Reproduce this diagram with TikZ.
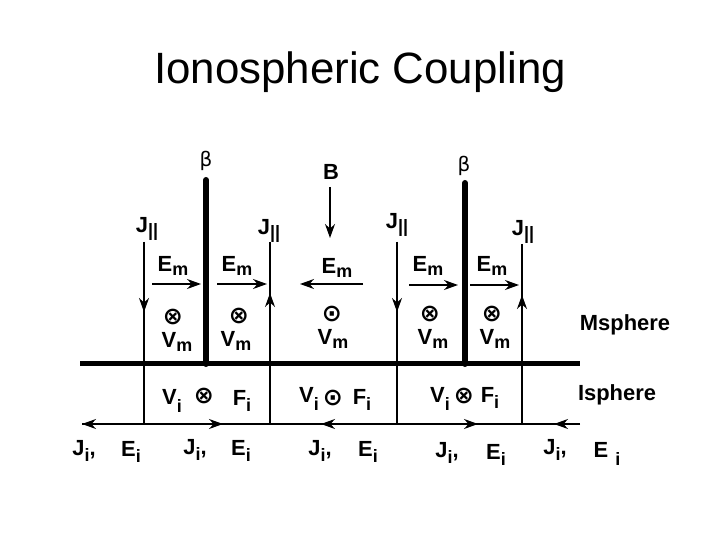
\documentclass[tikz,border=0pt]{standalone}
\usepackage{fontspec}
\setmainfont{Liberation Sans}
\newfontfamily\symfont{DejaVu Sans}
\usetikzlibrary{arrows.meta}
\newcommand{\lsub}[2][0.22em]{\raisebox{-#1}{\fontsize{18}{18}\selectfont\bfseries #2}}
\begin{document}
\begin{tikzpicture}[x=1bp,y=-1bp,
  lab/.style={font=\fontsize{22}{26}\selectfont\bfseries, inner sep=0pt},
  big/.style={font=\fontsize{22}{26}\selectfont\bfseries, inner sep=0pt},
  sym/.style={font=\fontsize{24}{26}\selectfont\symfont\bfseries, inner sep=0pt},
  greek/.style={font=\fontsize{20}{22}\selectfont\symfont, inner sep=0pt},
  thinline/.style={line width=1.4bp},
  thickline/.style={line width=6bp, line cap=round},
  boundary/.style={line width=5bp},
  arr/.style={line width=1.4bp, -{Stealth[length=14bp,width=10bp]}}]
\useasboundingbox (0,0) rectangle (720,540);
% title
\node[font=\fontsize{44}{50}\selectfont, inner sep=0pt, anchor=base] (title) at (360,84) {Ionospheric Coupling};

% coordinates
\coordinate (bl) at (80,363); \coordinate (br) at (580,363);
\coordinate (il) at (82,424); \coordinate (ir) at (580,424);
\coordinate (b1t) at (206,180); \coordinate (b1b) at (206,364);
\coordinate (b2t) at (465,183); \coordinate (b2b) at (465,364);
\coordinate (j1t) at (144,242); \coordinate (j1b) at (144,424);
\coordinate (j2t) at (270,242); \coordinate (j2b) at (270,424);
\coordinate (j3t) at (397,242); \coordinate (j3b) at (397,424);
\coordinate (j4t) at (522,244); \coordinate (j4b) at (522,424);

% main lines
\draw[boundary] (bl) -- (br);
\draw[thinline] (il) -- (ir);
\draw[thickline] (b1t) -- (b1b);
\draw[thickline] (b2t) -- (b2b);
\draw[thinline] (j1t) -- (j1b);
\draw[thinline] (j2t) -- (j2b);
\draw[thinline] (j3t) -- (j3b);
\draw[thinline] (j4t) -- (j4b);

% J parallel arrowheads
\coordinate (a1) at (144,312); \draw[arr] (j1t) -- (a1);
\coordinate (a2) at (270,293); \draw[arr] (j2b) -- (a2);
\coordinate (a3) at (397,312); \draw[arr] (j3t) -- (a3);
\coordinate (a4) at (522,295); \draw[arr] (j4b) -- (a4);

% B
\node[lab] (B) at (331,172) {B};
\coordinate (Bstart) at (330,187);
\coordinate (Bend) at (330,238);
\draw[arr] (Bstart) -- (Bend);

% beta
\node[greek] (beta1) at (206,161) {β};
\node[greek] (beta2) at (464,166) {β};

% J parallel labels
\node[lab] (J1) at (147,229) {J\lsub[0.15em]{||}};
\node[lab] (J2) at (269,231) {J\lsub[0.15em]{||}};
\node[lab] (J3) at (397,225) {J\lsub[0.15em]{||}};
\node[lab] (J4) at (523,232) {J\lsub[0.15em]{||}};

% Em labels and arrows
\node[lab] (E1) at (173,266) {E\lsub{m}};
\node[lab] (E2) at (237,266) {E\lsub{m}};
\node[lab] (E3) at (337,268) {E\lsub{m}};
\node[lab] (E4) at (428,266) {E\lsub{m}};
\node[lab] (E5) at (492,266) {E\lsub{m}};
\coordinate (e1a) at (152,284); \coordinate (e1b) at (201,284);
\coordinate (e2a) at (217,284); \coordinate (e2b) at (267,284);
\coordinate (e3a) at (363,284); \coordinate (e3b) at (300,284);
\coordinate (e4a) at (409,285); \coordinate (e4b) at (458,285);
\coordinate (e5a) at (470,285); \coordinate (e5b) at (519,285);
\draw[arr] (e1a) -- (e1b);
\draw[arr] (e2a) -- (e2b);
\draw[arr] (e3a) -- (e3b);
\draw[arr] (e4a) -- (e4b);
\draw[arr] (e5a) -- (e5b);

% Vm symbols
\node[sym] (o1) at (173,317) {⊗};
\node[sym] (o2) at (239,316) {⊗};
\node[sym] (o3) at (332,314) {⊙};
\node[sym] (o4) at (430,314) {⊗};
\node[sym] (o5) at (492,314) {⊗};
\node[lab] (V1) at (177,342) {V\lsub{m}};
\node[lab] (V2) at (236,341) {V\lsub{m}};
\node[lab] (V3) at (333,339) {V\lsub{m}};
\node[lab] (V4) at (433,339) {V\lsub{m}};
\node[lab] (V5) at (495,339) {V\lsub{m}};

\node[big] (Ms) at (625,325) {Msphere};
\node[big] (Is) at (617,395) {Isphere};

% ionosphere row
\node[lab] (vi1) at (172,401) {V\lsub[0.35em]{i}};
\node[sym] (oi1) at (204,396) {⊗};
\node[lab] (fi1) at (242,401) {F\lsub[0.3em]{i}};
\node[lab] (vi2) at (309,399) {V\lsub[0.35em]{i}};
\node[sym] (oi2) at (333,398) {⊙};
\node[lab] (fi2) at (362,400) {F\lsub[0.3em]{i}};
\node[lab] (vi3) at (440,399) {V\lsub[0.35em]{i}};
\node[sym] (oi3) at (464,396) {⊗};
\node[lab] (fi3) at (490,398) {F\lsub[0.3em]{i}};

% ionospheric current arrows
\coordinate (h1) at (145,424); \draw[arr] (h1) -- (il);
\coordinate (h2a) at (145,424); \coordinate (h2b) at (223,424); \draw[arr] (h2a) -- (h2b);
\coordinate (h3a) at (397,424); \coordinate (h3b) at (321,424); \draw[arr] (h3a) -- (h3b);
\coordinate (h4a) at (397,424); \coordinate (h4b) at (478,424); \draw[arr] (h4a) -- (h4b);
\coordinate (h5b) at (554,424); \draw[arr] (ir) -- (h5b);

% bottom labels
\node[lab] (ji1) at (84,451) {J\lsub[0.3em]{i},};
\node[lab] (ei1) at (131,452) {E\lsub[0.3em]{i}};
\node[lab] (ji2) at (195,450) {J\lsub[0.3em]{i},};
\node[lab] (ei2) at (241,451) {E\lsub[0.3em]{i}};
\node[lab] (ji3) at (320,451) {J\lsub[0.3em]{i},};
\node[lab] (ei3) at (368,452) {E\lsub[0.3em]{i}};
\node[lab] (ji4) at (447,453) {J\lsub[0.3em]{i},};
\node[lab] (ei4) at (496,455) {E\lsub[0.3em]{i}};
\node[lab] (ji5) at (555,450) {J\lsub[0.3em]{i},};
\node[lab] (ei5) at (607,454) {E\,\,\lsub[0.4em]{i}};
\end{tikzpicture}
\end{document}
